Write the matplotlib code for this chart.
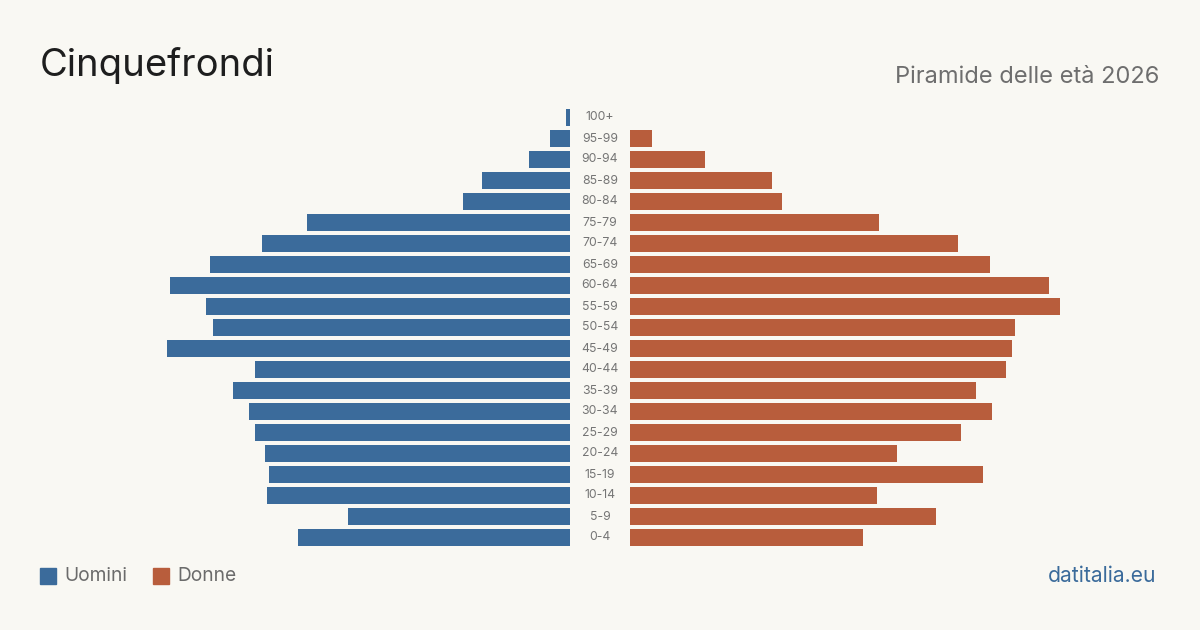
import numpy as np
import matplotlib.pyplot as plt

# data (top age group first)
ages = ['100+', '95-99', '90-94', '85-89', '80-84', '75-79', '70-74', '65-69',
        '60-64', '55-59', '50-54', '45-49', '40-44', '35-39', '30-34', '25-29',
        '20-24', '15-19', '10-14', '5-9', '0-4']
uomini = [4, 20, 41, 88, 107, 263, 308, 360, 400, 364, 357, 403, 315, 337,
          321, 315, 305, 301, 303, 222, 272]
donne = [0, 22, 75, 142, 152, 249, 328, 360, 419, 430, 385, 382, 376, 346,
         362, 331, 267, 353, 247, 306, 233]

BG = '#f9f8f3'
BLUE = '#3b6b9b'
RED = '#b85d3c'
plt.rcParams['font.family'] = ['Inter', 'DejaVu Sans']

W, H = 1200, 630
fig = plt.figure(figsize=(12, 6.3), dpi=100, facecolor=BG)

y = np.arange(len(ages))
top, bottom = 107, 548
span = 440

axl = fig.add_axes([(570 - span) / W, 1 - bottom / H, span / W, (bottom - top) / H])
axr = fig.add_axes([630 / W, 1 - bottom / H, span / W, (bottom - top) / H])

axl.barh(y, uomini, height=0.81, color=BLUE)
axr.barh(y, donne, height=0.81, color=RED)
axl.set_xlim(span, 0)
axr.set_xlim(0, span)
for ax in (axl, axr):
    ax.set_ylim(len(ages) - 0.5, -0.5)
    ax.axis('off')

for i, a in enumerate(ages):
    axr.text(-30, i, a, ha='center', va='center', fontsize=8.8, color='#757575',
             clip_on=False)

fig.text(40 / W, 1 - 66 / H, 'Cinquefrondi', fontsize=27.5, color='#1e1e1e',
         va='center', ha='left')
fig.text(1159 / W, 1 - 77 / H, 'Piramide delle età 2026', fontsize=17,
         color='#6e6e6e', va='center', ha='right')

# legend
fig.patches.append(plt.Rectangle((40 / W, 1 - 584 / H), 16 / W, 16 / H,
                                 transform=fig.transFigure, color=BLUE))
fig.text(64 / W, 1 - 576 / H, 'Uomini', fontsize=13.8, color='#6b6b6b', va='center')
fig.patches.append(plt.Rectangle((153 / W, 1 - 584 / H), 16 / W, 16 / H,
                                 transform=fig.transFigure, color=RED))
fig.text(177 / W, 1 - 576 / H, 'Donne', fontsize=13.8, color='#6b6b6b', va='center')

fig.text(1156 / W, 1 - 576 / H, 'datitalia.eu', fontsize=15.2, color=BLUE,
         va='center', ha='right')

fig.savefig('out.png', dpi=100, facecolor=BG)
